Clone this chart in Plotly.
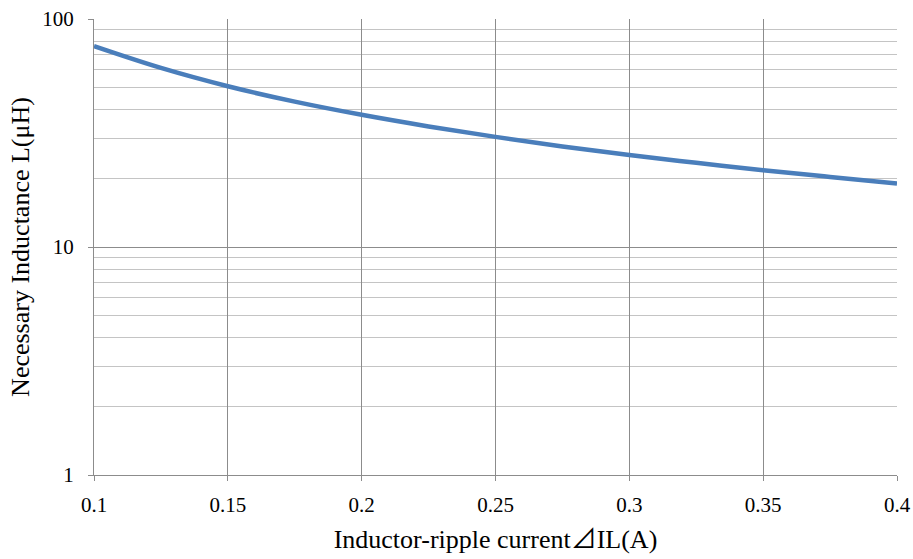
import plotly.graph_objects as go

# Ripple current (A) and the inductance it requires (µH)
ripple_current = [0.1, 0.125, 0.15, 0.175, 0.2, 0.225, 0.25, 0.275, 0.3, 0.325, 0.35, 0.375, 0.4]
inductance = [76, 61, 50.7, 43.4, 38, 33.8, 30.4, 27.6, 25.3, 23.4, 21.7, 20.3, 19]

x_ticks = [0.1, 0.15, 0.2, 0.25, 0.3, 0.35, 0.4]
x_tick_labels = ["0.1", "0.15", "0.2", "0.25", "0.3", "0.35", "0.4"]
y_ticks = [1, 10, 100]
y_tick_labels = ["1", "10", "100"]

serif = "Liberation Serif"
grid_major = "#8c8c8c"
grid_minor = "#c4c4c4"

x_title = 'Inductor-ripple current<span style="font-family:Noto Sans CJK JP">⊿</span>IL(A)'
y_title = "Necessary Inductance L(μH)"

fig = go.Figure(
    go.Scatter(
        x=ripple_current,
        y=inductance,
        mode="lines",
        line=dict(color="#4a7ebb", width=4.5, shape="spline"),
        showlegend=False,
    )
)

fig.update_layout(
    width=913,
    height=559,
    margin=dict(l=94, r=16, t=19, b=84, autoexpand=False),
    paper_bgcolor="white",
    plot_bgcolor="white",
    font=dict(family=serif, color="black", size=21),
)

fig.update_xaxes(
    range=[0.1, 0.4],
    tickvals=x_ticks,
    ticktext=x_tick_labels,
    showgrid=True,
    gridcolor=grid_major,
    gridwidth=1.3,
    showline=True,
    linecolor=grid_major,
    linewidth=1.3,
    ticks="outside",
    ticklen=5,
    tickcolor=grid_major,
    ticklabelstandoff=6,
    zeroline=False,
    automargin=False,
    tickfont=dict(family=serif, size=21),
    title=dict(text=x_title, font=dict(family=serif, size=26), standoff=13),
)

fig.update_yaxes(
    type="log",
    range=[0, 2],
    tickvals=y_ticks,
    ticktext=y_tick_labels,
    showgrid=True,
    gridcolor=grid_major,
    gridwidth=1.3,
    minor=dict(dtick="D1", showgrid=True, gridcolor=grid_minor, gridwidth=1.3, ticks=""),
    showline=True,
    linecolor=grid_major,
    linewidth=1.3,
    ticks="outside",
    ticklen=5,
    tickcolor=grid_major,
    ticklabelstandoff=10,
    zeroline=False,
    automargin=False,
    tickfont=dict(family=serif, size=21),
    title=dict(text=y_title, font=dict(family=serif, size=26), standoff=5),
)

fig.write_html("out.html")
